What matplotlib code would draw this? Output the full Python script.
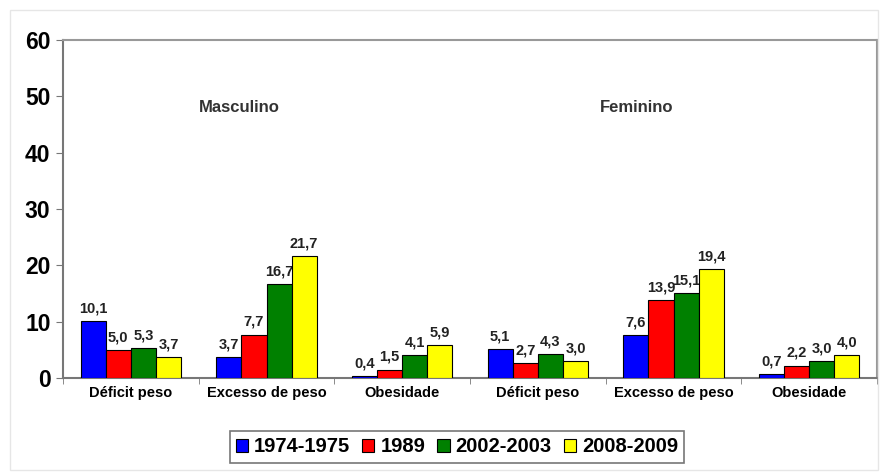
import matplotlib.pyplot as plt
import numpy as np
from matplotlib.patches import Rectangle

plt.rcParams['font.family'] = ['Liberation Sans', 'DejaVu Sans']

categories = ["Déficit peso", "Excesso de peso", "Obesidade",
              "Déficit peso", "Excesso de peso", "Obesidade"]
periods = ["1974-1975", "1989", "2002-2003", "2008-2009"]
colors = ["#0000ff", "#ff0000", "#008000", "#ffff00"]
values = {
    "1974-1975": [10.1, 3.7, 0.4, 5.1, 7.6, 0.7],
    "1989":      [5.0, 7.7, 1.5, 2.7, 13.9, 2.2],
    "2002-2003": [5.3, 16.7, 4.1, 4.3, 15.1, 3.0],
    "2008-2009": [3.7, 21.7, 5.9, 3.0, 19.4, 4.0],
}

fig = plt.figure(figsize=(8.8, 4.72), dpi=100)
ax = fig.add_axes([63 / 880, 1 - 378 / 472, 814 / 880, 338 / 472])

# faint outer frame
fig.patches.append(Rectangle((10 / 880, 0.005), 868 / 880, 1 - 10 / 472 - 0.005,
                             transform=fig.transFigure, fill=False,
                             edgecolor="#e6e6e6", lw=1))

x = np.arange(len(categories))
w = 0.185
for i, p in enumerate(periods):
    pos = x + (i - 1.5) * w
    ax.bar(pos, values[p], width=w, color=colors[i], edgecolor="black",
           linewidth=0.8, label=p, zorder=3)
    for xx, v in zip(pos, values[p]):
        ax.text(xx, v + 1.0, f"{v:.1f}".replace(".", ","), ha="center",
                va="bottom", fontsize=10.5, fontweight="bold", color="#222222")

ax.set_xlim(-0.5, 5.5)
ax.set_ylim(0, 60)
ax.set_yticks(range(0, 61, 10))
ax.set_yticklabels([str(t) for t in range(0, 61, 10)], fontsize=16.5,
                   fontweight="bold")
ax.set_xticks(x)
ax.set_xticklabels(categories, fontsize=10.5, fontweight="bold")
ax.tick_params(axis="x", length=0, pad=6)
ax.set_xticks(np.arange(-0.5, 6, 1), minor=True)
ax.tick_params(axis="x", which="minor", length=4, color="#777777")
ax.tick_params(axis="y", length=5, color="#777777", pad=4)

for s in ["top", "right"]:
    ax.spines[s].set_color("#999999")
    ax.spines[s].set_linewidth(1.5)
for s in ["left", "bottom"]:
    ax.spines[s].set_color("#777777")
    ax.spines[s].set_linewidth(1.5)

ax.text(0.8, 48, "Masculino", ha="center", va="center", fontsize=12,
        fontweight="bold", color="#333333")
ax.text(3.73, 48, "Feminino", ha="center", va="center", fontsize=12,
        fontweight="bold", color="#333333")

leg = fig.legend(loc="center", bbox_to_anchor=(457 / 880, 1 - 447 / 472),
                 ncol=4, frameon=True, fancybox=False, edgecolor="#555555",
                 prop={"size": 14.5, "weight": "bold"}, handlelength=0.6,
                 handleheight=0.6, handletextpad=0.3, columnspacing=0.6,
                 borderpad=0.3)
leg.get_frame().set_linewidth(1.2)

fig.savefig("out.png", dpi=100)
